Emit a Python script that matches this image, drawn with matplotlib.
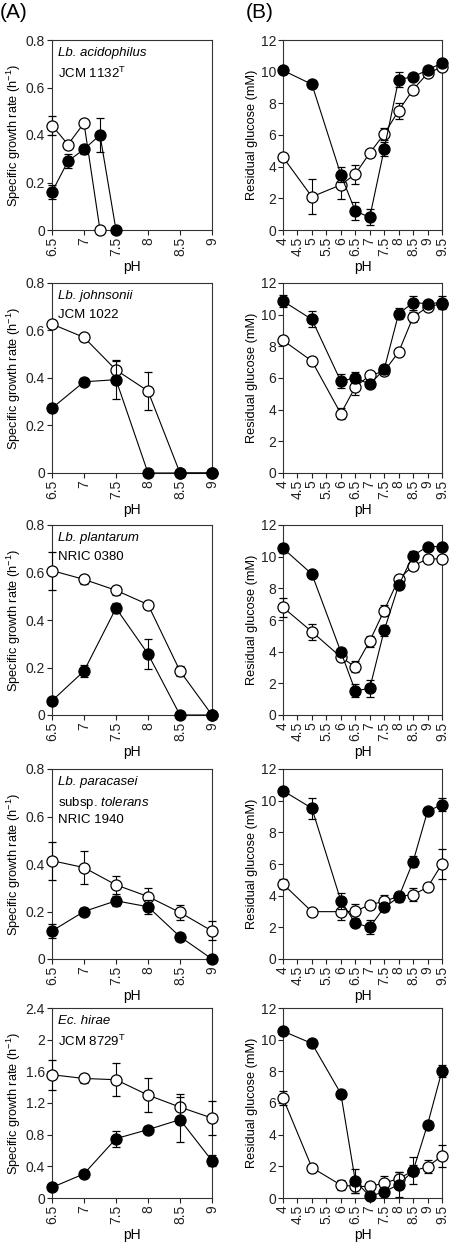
import matplotlib
matplotlib.use("Agg")
import matplotlib.pyplot as plt

plt.rcParams['font.family'] = ['Liberation Sans', 'DejaVu Sans']
plt.rcParams['mathtext.fontset'] = 'custom'
plt.rcParams['mathtext.rm'] = 'Liberation Sans'
plt.rcParams['mathtext.it'] = 'Liberation Sans:italic'

# ---------------- data ----------------
strain_names = ["Lb. acidophilus", "Lb. johnsonii", "Lb. plantarum",
                "Lb. paracasei", "Ec. hirae"]
strain_ids = ["JCM 1132$^\\mathrm{T}$", "JCM 1022", "NRIC 0380",
              "NRIC 1940", "JCM 8729$^\\mathrm{T}$"]
subspecies_line = "subsp. $\\mathit{tolerans}$"

ph_growth = [6.5, 7, 7.5, 8, 8.5, 9]
ph_glucose = [4, 5, 6, 6.5, 7, 7.5, 8, 8.5, 9, 9.5]

# Panel 1 (Lb. acidophilus)
g1_open_ph = [6.5, 6.75, 7.0, 7.25]
g1_open = [0.44, 0.36, 0.45, 0.0]
g1_open_err = [0.04, 0.015, 0.01, 0.0]
g1_fill_ph = [6.5, 6.75, 7.0, 7.25, 7.5]
g1_fill = [0.16, 0.29, 0.34, 0.40, 0.0]
g1_fill_err = [0.03, 0.03, 0.02, 0.07, 0.0]

# Panel 2 (Lb. johnsonii)
g2_open = [0.627, 0.571, 0.434, 0.345, 0.0, 0.0]
g2_open_err = [0.01, 0.015, 0.04, 0.08, 0.0, 0.0]
g2_fill = [0.273, 0.384, 0.393, 0.0, 0.0, 0.0]
g2_fill_err = [0.01, 0.015, 0.08, 0.0, 0.0, 0.0]

# Panel 3 (Lb. plantarum)
g3_open = [0.608, 0.571, 0.525, 0.465, 0.185, 0.0]
g3_open_err = [0.08, 0.02, 0.02, 0.01, 0.02, 0.0]
g3_fill = [0.06, 0.185, 0.45, 0.257, 0.0, 0.0]
g3_fill_err = [0.01, 0.025, 0.02, 0.063, 0.0, 0.0]

# Panel 4 (Lb. paracasei subsp. tolerans)
g4_open = [0.414, 0.385, 0.312, 0.263, 0.196, 0.118]
g4_open_err = [0.08, 0.07, 0.038, 0.035, 0.03, 0.04]
g4_fill = [0.118, 0.2, 0.245, 0.22, 0.094, 0.0]
g4_fill_err = [0.03, 0.015, 0.02, 0.03, 0.01, 0.0]

# Panel 5 (Ec. hirae)
g5_open = [1.557, 1.51, 1.494, 1.30, 1.148, 1.01]
g5_open_err = [0.19, 0.06, 0.21, 0.21, 0.17, 0.21]
g5_fill = [0.134, 0.305, 0.75, 0.864, 0.99, 0.47]
g5_fill_err = [0.02, 0.02, 0.1, 0.03, 0.28, 0.07]

# Residual glucose panels
r1_open = [4.6, 2.1, 2.85, 3.53, 4.86, 6.06, 7.54, 8.87, 9.89, 10.29]
r1_open_err = [0.1, 1.1, 0.9, 0.6, 0.1, 0.4, 0.5, 0.25, 0.1, 0.2]
r1_fill = [10.08, 9.2, 3.5, 1.2, 0.8, 5.1, 9.5, 9.68, 10.1, 10.56]
r1_fill_err = [0.1, 0.15, 0.45, 0.55, 0.5, 0.45, 0.47, 0.15, 0.15, 0.2]

r2_open = [8.38, 7.07, 3.75, 5.43, 6.17, 6.42, 7.64, 9.85, 10.48, 10.7]
r2_open_err = [0.25, 0.25, 0.35, 0.5, 0.1, 0.2, 0.15, 0.3, 0.15, 0.2]
r2_fill = [10.86, 9.7, 5.79, 6.02, 5.6, 6.55, 10.06, 10.76, 10.7, 10.76]
r2_fill_err = [0.4, 0.5, 0.45, 0.35, 0.15, 0.3, 0.35, 0.45, 0.1, 0.4]

r3_open = [6.8, 5.26, 3.66, 3.04, 4.67, 6.6, 8.59, 9.42, 9.86, 9.86]
r3_open_err = [0.6, 0.5, 0.15, 0.35, 0.35, 0.35, 0.15, 0.25, 0.1, 0.1]
r3_fill = [10.53, 8.9, 4.0, 1.53, 1.68, 5.34, 8.19, 10.07, 10.64, 10.64]
r3_fill_err = [0.3, 0.2, 0.25, 0.4, 0.55, 0.35, 0.2, 0.3, 0.1, 0.1]

r4_open = [4.74, 2.99, 2.99, 3.01, 3.43, 3.64, 3.96, 4.06, 4.53, 6.0]
r4_open_err = [0.3, 0.1, 0.5, 0.45, 0.1, 0.4, 0.3, 0.4, 0.15, 0.95]
r4_fill = [10.63, 9.52, 3.68, 2.27, 2.0, 3.26, 3.9, 6.15, 9.33, 9.75]
r4_fill_err = [0.1, 0.65, 0.5, 0.1, 0.45, 0.2, 0.3, 0.35, 0.15, 0.4]

r5_open = [6.31, 1.92, 0.82, 0.73, 0.73, 0.94, 1.23, 1.71, 1.97, 2.66]
r5_open_err = [0.45, 0.25, 0.3, 0.4, 0.3, 0.45, 0.4, 0.35, 0.4, 0.7]
r5_fill = [10.54, 9.76, 6.6, 1.09, 0.1, 0.4, 0.84, 1.71, 4.64, 8.03]
r5_fill_err = [0.15, 0.2, 0.2, 0.75, 0.05, 0.3, 0.8, 0.85, 0.1, 0.4]

growth_panels = [
    (g1_open_ph, g1_open, g1_open_err, g1_fill_ph, g1_fill, g1_fill_err),
    (ph_growth, g2_open, g2_open_err, ph_growth, g2_fill, g2_fill_err),
    (ph_growth, g3_open, g3_open_err, ph_growth, g3_fill, g3_fill_err),
    (ph_growth, g4_open, g4_open_err, ph_growth, g4_fill, g4_fill_err),
    (ph_growth, g5_open, g5_open_err, ph_growth, g5_fill, g5_fill_err),
]
glucose_panels = [
    (r1_open, r1_open_err, r1_fill, r1_fill_err),
    (r2_open, r2_open_err, r2_fill, r2_fill_err),
    (r3_open, r3_open_err, r3_fill, r3_fill_err),
    (r4_open, r4_open_err, r4_fill, r4_fill_err),
    (r5_open, r5_open_err, r5_fill, r5_fill_err),
]

growth_ticks = [0, 0.2, 0.4, 0.6, 0.8]
growth_ticklabels = ["0", "0.2", "0.4", "0.6", "0.8"]
growth_ticks5 = [0, 0.4, 0.8, 1.2, 1.6, 2.0, 2.4]
growth_ticklabels5 = ["0", "0.4", "0.8", "1.2", "1.6", "2", "2.4"]
glucose_ticks = [0, 2, 4, 6, 8, 10, 12]
xt_growth = [6.5, 7, 7.5, 8, 8.5, 9]
xt_growth_labels = ["6.5", "7", "7.5", "8", "8.5", "9"]
xt_glucose = [4, 4.5, 5, 5.5, 6, 6.5, 7, 7.5, 8, 8.5, 9, 9.5]
xt_glucose_labels = ["4", "4.5", "5", "5.5", "6", "6.5", "7", "7.5", "8", "8.5", "9", "9.5"]

# ---------------- layout ----------------
W, H = 450, 1244
fig = plt.figure(figsize=(W / 100, H / 100), dpi=100)

tops = [40, 283, 525, 769, 1008]
ph = 190
lx0, lx1 = 52, 212
rx0, rx1 = 283, 442

def px_axes(x0, x1, top, h):
    return fig.add_axes([x0 / W, 1 - (top + h) / H, (x1 - x0) / W, h / H])

TICK_FS = 10
YLAB_FS = 9.2
ANN_FS = 9.5
XLAB_FS = 10
ms = 8
lw = 0.8

def style(ax):
    for s in ax.spines.values():
        s.set_linewidth(0.8)
        s.set_color('#333333')
    ax.tick_params(direction='out', length=3.5, width=0.8, labelsize=TICK_FS,
                   pad=1.5, top=False, right=False, colors='#222222')

def draw_series(ax, x, y, e, filled):
    ax.errorbar(x, y, yerr=e, fmt='-o', color='black', lw=lw, elinewidth=lw,
                capsize=3, capthick=lw, ms=ms,
                mfc='black' if filled else 'white', mec='black', mew=0.9,
                zorder=4 if filled else 3, clip_on=False)

for i in range(5):
    # ---- growth (left) ----
    ax = px_axes(lx0, lx1, tops[i], ph)
    ox, oy, oe, fx, fy, fe = growth_panels[i]
    draw_series(ax, ox, oy, oe, False)
    draw_series(ax, fx, fy, fe, True)
    ax.set_xlim(6.5, 9)
    ax.set_xticks(xt_growth)
    ax.set_xticklabels(xt_growth_labels, rotation=90)
    if i == 4:
        ax.set_ylim(0, 2.4)
        ax.set_yticks(growth_ticks5)
        ax.set_yticklabels(growth_ticklabels5)
    else:
        ax.set_ylim(0, 0.8)
        ax.set_yticks(growth_ticks)
        ax.set_yticklabels(growth_ticklabels)
    ax.set_ylabel("Specific growth rate (h$^{-1}$)", fontsize=YLAB_FS, labelpad=2)
    ax.set_xlabel("pH", fontsize=XLAB_FS, labelpad=3)
    style(ax)
    ax.text(0.035, 0.965, strain_names[i], transform=ax.transAxes,
            fontsize=ANN_FS, style='italic', va='top', ha='left')
    if i == 3:
        ax.text(0.035, 0.865, subspecies_line, transform=ax.transAxes,
                fontsize=ANN_FS, va='top', ha='left')
        ax.text(0.035, 0.765, strain_ids[i], transform=ax.transAxes,
                fontsize=ANN_FS, va='top', ha='left')
    else:
        ax.text(0.035, 0.865, strain_ids[i], transform=ax.transAxes,
                fontsize=ANN_FS, va='top', ha='left')

    # ---- glucose (right) ----
    ax2 = px_axes(rx0, rx1, tops[i], ph)
    oy2, oe2, fy2, fe2 = glucose_panels[i]
    draw_series(ax2, ph_glucose, oy2, oe2, False)
    draw_series(ax2, ph_glucose, fy2, fe2, True)
    ax2.set_xlim(4, 9.5)
    ax2.set_xticks(xt_glucose)
    ax2.set_xticklabels(xt_glucose_labels, rotation=90)
    ax2.set_ylim(0, 12)
    ax2.set_yticks(glucose_ticks)
    ax2.set_ylabel("Residual glucose (mM)", fontsize=YLAB_FS, labelpad=2)
    ax2.set_xlabel("pH", fontsize=XLAB_FS, labelpad=3)
    style(ax2)

fig.text(0 / W, 1 - 3 / H, "(A)", fontsize=15, va='top', ha='left')
fig.text(246 / W, 1 - 3 / H, "(B)", fontsize=15, va='top', ha='left')

fig.savefig("out.png", dpi=100)
